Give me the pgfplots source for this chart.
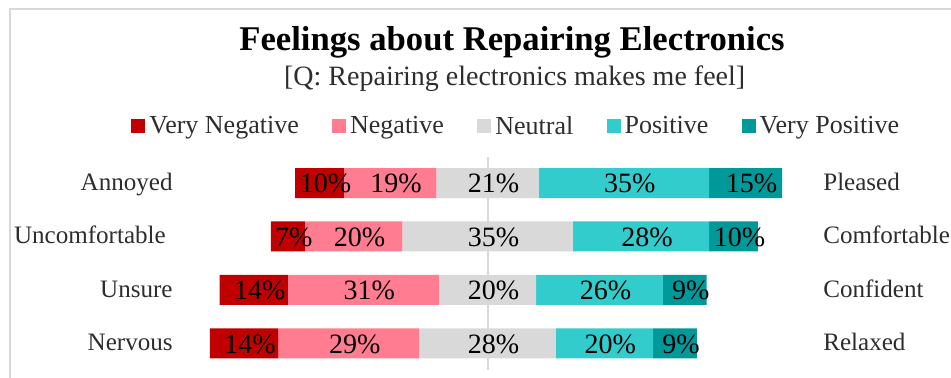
\documentclass[border=0pt]{standalone}
\usepackage{pgfplots}
\pgfplotsset{compat=1.18}
\usepackage{pgfplotstable}
\usepackage{fontspec}
\setmainfont{Liberation Serif}
\definecolor{cvn}{RGB}{192,0,0}
\definecolor{cng}{RGB}{255,124,145}
\definecolor{cnu}{RGB}{217,217,217}
\definecolor{cps}{RGB}{51,204,204}
\definecolor{cvp}{RGB}{0,153,153}
\definecolor{cframe}{RGB}{217,217,217}
\definecolor{ctext}{RGB}{45,45,45}
% y: row position (3 = top); off: left end of the bar (neutral centred on 0)
\pgfplotstableread{
y off vn n neu p vp
3 -39.5 10 19 21 35 15
2 -44.5 7 20 35 28 10
1 -55 14 31 20 26 9
0 -57 14 29 28 20 9
}\data
\pgfplotsset{
  common/.style={
    at={(0pt,0pt)}, anchor=south west, scale only axis,
    width=713.25pt, height=171pt,
    ymin=-0.645, ymax=3.617,
    hide axis, clip=false,
  },
}
\begin{document}
\begin{tikzpicture}
\path[use as bounding box] (0,0) rectangle (713.25pt,283.5pt);
\draw[cframe, line width=1.5pt] (7.5pt,-2pt) -- (7.5pt,276.75pt) -- (716pt,276.75pt);
\node[font=\bfseries\fontsize{26}{30}\selectfont, anchor=base, inner sep=0pt] at (384pt,245.25pt) {Feelings about Repairing Electronics};
\node[font=\fontsize{21}{25}\selectfont, text=ctext, anchor=base, inner sep=0pt] at (386pt,219pt) {[Q: Repairing electronics makes me feel]};
% bar axis: x shifted by +100 so that every stacked value is positive
\begin{axis}[common, xmin=-0.1, xmax=195.17, xbar stacked, bar width=22.5pt]
\draw[cnu, line width=1.5pt] (axis cs:100,-0.495) -- (axis cs:100,3.486);
\addplot[draw=none, fill=none] table[x expr=\thisrow{off}+100, y=y] {\data};
\addplot[fill=cvn, draw=none] table[x=vn, y=y] {\data};
\addplot[fill=cng, draw=none] table[x=n, y=y] {\data};
\addplot[fill=cnu, draw=none] table[x=neu, y=y] {\data};
\addplot[fill=cps, draw=none] table[x=p, y=y] {\data};
\addplot[fill=cvp, draw=none] table[x=vp, y=y] {\data};
\end{axis}
% labels and legend axis (unshifted x)
\begin{axis}[common, xmin=-100.1, xmax=95.17,
  /pgf/number format/assume math mode=true,
  nodes near coords={\pgfmathprintnumber{\pgfplotspointmeta}\%},
  every node near coord/.style={anchor=base, xshift=4.5pt, yshift=-7.3pt, inner sep=0pt, font=\fontsize{21}{25}\selectfont, text=black},
  point meta=explicit,
  legend columns=5,
  legend style={at={(0.5432,1.105)}, anchor=center, draw=none, fill=none,
    font=\fontsize{19.5}{22}\selectfont, text=ctext,
    /tikz/every even column/.append style={column sep=23pt},
    /tikz/every odd column/.append style={column sep=1pt}},
  legend image code/.code={\fill[#1] (0pt,-5.25pt) rectangle (10.5pt,5.25pt);},
]
\addlegendimage{fill=cvn, draw=none}
\addlegendentry{Very Negative}
\addlegendimage{fill=cng, draw=none}
\addlegendentry{Negative}
\addlegendimage{fill=cnu, draw=none}
\addlegendentry{Neutral}
\addlegendimage{fill=cps, draw=none}
\addlegendentry{Positive}
\addlegendimage{fill=cvp, draw=none}
\addlegendentry{Very Positive}
\addplot[forget plot, only marks, mark size=0pt, mark options={draw=none,fill=none}] table[x expr=\thisrow{off}+0.5*\thisrow{vn}, y=y, meta=vn] {\data};
\addplot[forget plot, only marks, mark size=0pt, mark options={draw=none,fill=none}] table[x expr=\thisrow{off}+\thisrow{vn}+0.5*\thisrow{n}, y=y, meta=n] {\data};
\addplot[forget plot, only marks, mark size=0pt, mark options={draw=none,fill=none}] table[x expr=\thisrow{off}+\thisrow{vn}+\thisrow{n}+0.5*\thisrow{neu}, y=y, meta=neu] {\data};
\addplot[forget plot, only marks, mark size=0pt, mark options={draw=none,fill=none}] table[x expr=\thisrow{off}+\thisrow{vn}+\thisrow{n}+\thisrow{neu}+0.5*\thisrow{p}, y=y, meta=p] {\data};
\addplot[forget plot, only marks, mark size=0pt, mark options={draw=none,fill=none}] table[x expr=\thisrow{off}+\thisrow{vn}+\thisrow{n}+\thisrow{neu}+\thisrow{p}+0.5*\thisrow{vp}, y=y, meta=vp] {\data};
\begin{scope}[every node/.style={inner sep=0pt, text=ctext, font=\fontsize{18.8}{23}\selectfont}]
\node[anchor=base east] at ([yshift=-5.5pt]axis cs:-64.6,3) {Annoyed};
\node[anchor=base east] at ([yshift=-5.5pt]axis cs:-66.0,2) {Uncomfortable};
\node[anchor=base east] at ([yshift=-5.5pt]axis cs:-64.6,1) {Unsure};
\node[anchor=base east] at ([yshift=-5.5pt]axis cs:-64.6,0) {Nervous};
\node[anchor=base west] at ([yshift=-5.5pt]axis cs:68.9,3) {Pleased};
\node[anchor=base west] at ([yshift=-5.5pt]axis cs:68.9,2) {Comfortable};
\node[anchor=base west] at ([yshift=-5.5pt]axis cs:68.9,1) {Confident};
\node[anchor=base west] at ([yshift=-5.5pt]axis cs:68.9,0) {Relaxed};
\end{scope}
\end{axis}
\end{tikzpicture}
\end{document}
